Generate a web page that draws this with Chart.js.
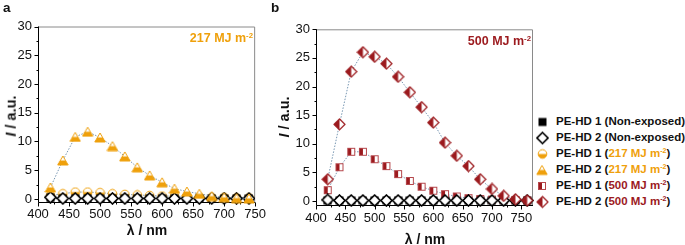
<!DOCTYPE html>
<html>
<head>
<meta charset="utf-8">
<script src="https://cdn.jsdelivr.net/npm/chart.js@4/dist/chart.umd.min.js"></script>
<style>
  body { margin: 0; width: 685px; height: 245px; position: relative; background: #fff; overflow: hidden;
         font-family: 'Liberation Sans', Arial, sans-serif; color: #111; }
  canvas.plot { position: absolute; top: 0; }
  .t { position: absolute; white-space: nowrap; font-weight: bold; line-height: 1; }
  .c { transform: translate(-50%, -50%); }
  .r { transform: translate(-100%, -50%); }
  .rot { transform: translate(-50%, -50%) rotate(-90deg); }
  .sup { font-size: 0.62em; position: relative; top: -0.55em; }
  .leg { position: absolute; left: 536px; font-weight: bold; font-size: 11.5px; line-height: 1; white-space: nowrap; }
  .leg canvas { position: absolute; left: 0; top: 50%; transform: translateY(-50%); }
  .leg span.txt { position: absolute; left: 20px; top: 0; transform: translateY(-50%); }
  .or { color: #EFA00B; }
  .dr { color: #9C1A1E; }
</style>
</head>
<body>
<canvas id="chartA" class="plot" width="270" height="245" style="left:0"></canvas>
<canvas id="chartB" class="plot" width="283" height="245" style="left:262px"></canvas>

<div class="t" style="left:3px;top:1px;font-size:13.5px">a</div>
<div class="t" style="left:271px;top:1px;font-size:13.5px">b</div>

<div class="t rot" style="left:11px;top:116px;font-size:14.5px"><i>I</i> / a.u.</div>
<div class="t rot" style="left:284px;top:117px;font-size:14.5px"><i>I</i> / a.u.</div>
<div class="t c" style="left:147px;top:230px;font-size:14px">λ / nm</div>
<div class="t c" style="left:425px;top:239px;font-size:14px">λ / nm</div>

<div class="t r or" style="left:253px;top:38px;font-size:12.5px">217 MJ m<span class="sup">-2</span></div>
<div class="t r dr" style="left:531px;top:41px;font-size:12.5px">500 MJ m<span class="sup">-2</span></div>

<div id="legend"></div>

<script>
// wavelengths (nm)
const lambdaA = [420, 440, 460, 480, 500, 520, 540, 560, 580, 600, 620, 640, 660, 680, 700, 720, 740];
const lambdaB = [420, 440, 460, 480, 500, 520, 540, 560, 580, 600, 620, 640, 660, 680, 700, 720, 740, 760];

// panel a, intensity (a.u.)
const hd1NonA = [0.2, 0.1, 0.1, 0.1, 0.1, 0.1, 0.1, 0.1, 0.1, 0.1, 0.1, 0.1, 0.1, 0.1, 0.1, 0.1, 0.1];
const hd2NonA = [0.3, 0.1, 0.1, 0.1, 0.1, 0.1, 0.1, 0.1, 0.1, 0.1, 0.1, 0.1, 0.1, 0.1, 0.1, 0.1, 0.1];
const hd1_217 = [0.6, 0.9, 1.2, 1.2, 1.1, 0.9, 0.8, 0.7, 0.6, 0.5, 0.5, 0.4, 0.4, 0.3, 0.3, 0.2, 0.2];
const hd2_217 = [2.0, 6.7, 10.8, 11.7, 10.7, 9.2, 7.4, 5.5, 4.1, 2.9, 1.8, 1.3, 0.9, 0.5, 0.3, 0.15, 0.1];

// panel b, intensity (a.u.)
const hd1NonB = [0.1, 0.1, 0.1, 0.1, 0.1, 0.1, 0.1, 0.1, 0.1, 0.1, 0.1, 0.1, 0.1, 0.1, 0.1, 0.1, 0.1, 0.1];
const hd2NonB = [0.2, 0.1, 0.1, 0.1, 0.1, 0.1, 0.1, 0.1, 0.1, 0.1, 0.1, 0.1, 0.1, 0.1, 0.1, 0.1, 0.1, 0.1];
const hd1_500 = [1.9, 5.9, 8.6, 8.6, 7.3, 6.1, 4.7, 3.5, 2.5, 1.8, 1.2, 0.8, 0.5, 0.35, 0.25, 0.2, 0.15, 0.1];
const hd2_500 = [3.8, 13.4, 22.6, 26.0, 25.2, 24.0, 21.7, 19.0, 16.4, 13.7, 10.2, 7.9, 6.1, 3.8, 2.1, 0.9, 0.3, 0.1];

const ORANGE = '#EFA00B';
const DARKRED = '#9C1A1E';
const LINE = 'rgba(105,140,170,0.9)';
const FONT = "'Liberation Sans', Arial, sans-serif";

function marker(w, h, draw) {
    var c = document.createElement('canvas');
    c.width = w; c.height = h;
    draw(c.getContext('2d'));
    return c;
}

function squareBlack() {
    return marker(9, 9, function (g) { g.fillStyle = '#000'; g.fillRect(0.5, 0.5, 8, 8); });
}
function diamondOpen() {
    return marker(13, 13, function (g) {
        g.beginPath(); g.moveTo(6.5, 1); g.lineTo(12, 6.5); g.lineTo(6.5, 12); g.lineTo(1, 6.5); g.closePath();
        g.fillStyle = '#fff'; g.fill();
        g.lineWidth = 1.6; g.strokeStyle = '#000'; g.stroke();
    });
}
function circleHalf() {
    return marker(11, 11, function (g) {
        g.beginPath(); g.arc(5.5, 5.5, 4.3, 0, Math.PI * 2);
        g.fillStyle = '#fff'; g.fill();
        g.beginPath(); g.arc(5.5, 5.5, 4.3, 0, Math.PI); g.closePath();
        g.fillStyle = ORANGE; g.fill();
        g.beginPath(); g.arc(5.5, 5.5, 4.3, 0, Math.PI * 2);
        g.lineWidth = 1; g.strokeStyle = ORANGE; g.stroke();
    });
}
function triangleHalf() {
    return marker(12, 11, function (g) {
        g.beginPath(); g.moveTo(6, 1); g.lineTo(11.2, 10); g.lineTo(0.8, 10); g.closePath();
        g.fillStyle = '#fff'; g.fill();
        g.beginPath(); g.moveTo(3.4, 5.5); g.lineTo(8.6, 5.5); g.lineTo(11.2, 10); g.lineTo(0.8, 10); g.closePath();
        g.fillStyle = ORANGE; g.fill();
        g.beginPath(); g.moveTo(6, 1); g.lineTo(11.2, 10); g.lineTo(0.8, 10); g.closePath();
        g.lineWidth = 1; g.strokeStyle = ORANGE; g.stroke();
    });
}
function squareHalf() {
    return marker(10, 10, function (g) {
        g.fillStyle = '#fff'; g.fillRect(1, 1, 8, 8);
        g.fillStyle = DARKRED; g.fillRect(1, 1, 4, 8);
        g.lineWidth = 1; g.strokeStyle = '#b5474c'; g.strokeRect(1.5, 1.5, 7, 7);
    });
}
function diamondHalf() {
    return marker(13, 13, function (g) {
        g.beginPath(); g.moveTo(6.5, 1); g.lineTo(12, 6.5); g.lineTo(6.5, 12); g.lineTo(1, 6.5); g.closePath();
        g.fillStyle = '#fff'; g.fill();
        g.beginPath(); g.moveTo(6.5, 1); g.lineTo(6.5, 12); g.lineTo(1, 6.5); g.closePath();
        g.fillStyle = DARKRED; g.fill();
        g.beginPath(); g.moveTo(6.5, 1); g.lineTo(12, 6.5); g.lineTo(6.5, 12); g.lineTo(1, 6.5); g.closePath();
        g.lineWidth = 1.2; g.strokeStyle = DARKRED; g.stroke();
    });
}

function pts(xs, ys) {
    return xs.map(function (x, i) { return { x: x, y: ys[i] }; });
}

function series(label, xs, ys, style, order) {
    return {
        label: label,
        data: pts(xs, ys),
        pointStyle: style,
        pointRadius: 6,
        borderColor: LINE,
        borderWidth: 1,
        borderDash: [1.5, 1.5],
        backgroundColor: 'transparent',
        fill: false,
        tension: 0,
        clip: false,
        order: order
    };
}

// axis box + outward ticks (major and minor)
var framePlugin = {
    id: 'frame',
    beforeDatasetsDraw: function (chart) {
        var ctx = chart.ctx, a = chart.chartArea, xs = chart.scales.x, ys = chart.scales.y;
        ctx.save();
        ctx.lineWidth = 1;
        ctx.strokeStyle = '#8a8a8a';
        ctx.beginPath();
        ctx.moveTo(a.left, a.top + 0.5); ctx.lineTo(a.right - 0.5, a.top + 0.5); ctx.lineTo(a.right - 0.5, a.bottom);
        ctx.stroke();
        ctx.strokeStyle = '#000';
        ctx.beginPath();
        ctx.moveTo(a.left + 0.5, a.top); ctx.lineTo(a.left + 0.5, a.bottom - 0.5); ctx.lineTo(a.right, a.bottom - 0.5);
        var v, p;
        for (v = 0; v <= ys.max + 1e-6; v += 2.5) {
            p = Math.round(ys.getPixelForValue(v)) + 0.5;
            ctx.moveTo(a.left + 0.5, p); ctx.lineTo(a.left + 0.5 - (v % 5 === 0 ? 4 : 2), p);
        }
        for (v = 400; v <= xs.max + 1e-6; v += 25) {
            p = Math.round(xs.getPixelForValue(v)) + 0.5;
            ctx.moveTo(p, a.bottom - 0.5); ctx.lineTo(p, a.bottom - 0.5 + (v % 50 === 0 ? 4 : 2));
        }
        ctx.stroke();
        ctx.restore();
    }
};

function makeChart(id, datasets, xMax, yMin, pad, yWidth, xHeight, xPad) {
    return new Chart(document.getElementById(id), {
        type: 'line',
        data: { datasets: datasets },
        plugins: [framePlugin],
        options: {
            responsive: false,
            animation: false,
            events: [],
            layout: { padding: pad },
            plugins: { legend: { display: false }, tooltip: { enabled: false } },
            scales: {
                x: {
                    type: 'linear', min: 400, max: xMax,
                    grid: { display: false, drawTicks: false }, border: { display: false },
                    ticks: { stepSize: 50, includeBounds: false, autoSkip: false, maxRotation: 0,
                             padding: xPad, color: '#111', font: { family: FONT, size: 13 } },
                    afterFit: function (s) { s.height = xHeight; }
                },
                y: {
                    min: yMin, max: 30,
                    grid: { display: false, drawTicks: false }, border: { display: false },
                    ticks: { stepSize: 5, includeBounds: false, padding: 6, color: '#111', font: { family: FONT, size: 13 } },
                    afterFit: function (s) { s.width = yWidth; }
                }
            }
        }
    });
}

makeChart('chartA', [
    series('PE-HD 2 (217 MJ m-2)', lambdaA, hd2_217, triangleHalf(), 0),
    series('PE-HD 2 (Non-exposed)', lambdaA, hd2NonA, diamondOpen(), 1),
    series('PE-HD 1 (Non-exposed)', lambdaA, hd1NonA, squareBlack(), 2),
    series('PE-HD 1 (217 MJ m-2)', lambdaA, hd1_217, circleHalf(), 3)
], 750, -0.7, { top: 26.5, right: 13, bottom: 0, left: 0 }, 38, 42, 4);

makeChart('chartB', [
    series('PE-HD 2 (500 MJ m-2)', lambdaB, hd2_500, diamondHalf(), 0),
    series('PE-HD 2 (Non-exposed)', lambdaB, hd2NonB, diamondOpen(), 1),
    series('PE-HD 1 (500 MJ m-2)', lambdaB, hd1_500, squareHalf(), 2),
    series('PE-HD 1 (Non-exposed)', lambdaB, hd1NonB, squareBlack(), 3)
], 770, -0.87, { top: 29.3, right: 12, bottom: 0, left: 0 }, 54, 39, 5);

// legend
var legendRows = [
    { m: squareBlack(), html: 'PE-HD 1 (Non-exposed)' },
    { m: diamondOpen(), html: 'PE-HD 2 (Non-exposed)' },
    { m: circleHalf(), html: 'PE-HD 1 (<span class="or">217 MJ m<span class="sup">-2</span></span>)' },
    { m: triangleHalf(), html: 'PE-HD 2 (<span class="or">217 MJ m<span class="sup">-2</span></span>)' },
    { m: squareHalf(), html: 'PE-HD 1 (<span class="dr">500 MJ m<span class="sup">-2</span></span>)' },
    { m: diamondHalf(), html: 'PE-HD 2 (<span class="dr">500 MJ m<span class="sup">-2</span></span>)' }
];
var rowY = [121.5, 137.5, 153.5, 169.5, 185.5, 201.5];
var legend = document.getElementById('legend');
legendRows.forEach(function (r, i) {
    var d = document.createElement('div');
    d.className = 'leg';
    d.style.top = rowY[i] + 'px';
    r.m.style.left = (6 - r.m.width / 2) + 'px';
    d.appendChild(r.m);
    var s = document.createElement('span');
    s.className = 'txt';
    s.innerHTML = r.html;
    d.appendChild(s);
    legend.appendChild(d);
});
</script>
</body>
</html>
